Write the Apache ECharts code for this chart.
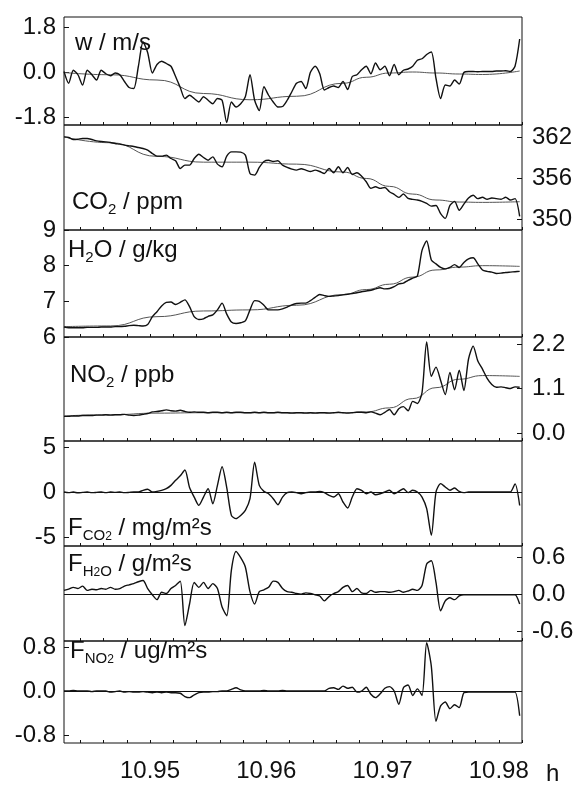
<!DOCTYPE html>
<html>
<head>
<meta charset="utf-8">
<script src="https://cdn.jsdelivr.net/npm/echarts@6/dist/echarts.min.js"></script>
<style>
  html, body { margin: 0; background: #fff; }
  #chart { width: 577px; height: 787px; }
</style>
</head>
<body>
<div id="chart"></div>
<script>
// sample times (h)
const hours = [
  10.9426,10.9430,10.9434,10.9438,10.9442,10.9446,10.9450,10.9454,10.9458,10.9462,
  10.9466,10.9470,10.9474,10.9478,10.9482,10.9486,10.9490,10.9494,10.9498,10.9502,
  10.9506,10.9510,10.9514,10.9518,10.9522,10.9526,10.9530,10.9534,10.9538,10.9542,
  10.9546,10.9550,10.9554,10.9558,10.9562,10.9566,10.9570,10.9574,10.9578,10.9582,
  10.9586,10.9590,10.9594,10.9598,10.9602,10.9606,10.9610,10.9614,10.9618,10.9622,
  10.9626,10.9630,10.9634,10.9638,10.9642,10.9646,10.9650,10.9654,10.9658,10.9662,
  10.9666,10.9670,10.9674,10.9678,10.9682,10.9686,10.9690,10.9694,10.9698,10.9702,
  10.9706,10.9710,10.9714,10.9718,10.9722,10.9726,10.9730,10.9734,10.9738,10.9742,
  10.9746,10.9750,10.9754,10.9758,10.9762,10.9766,10.9770,10.9774,10.9778,10.9782,
  10.9786,10.9790,10.9794,10.9798,10.9802,10.9806,10.9810,10.9814,10.9818
];

const w = [
  0.02,-0.45,0.07,-0.11,-0.52,0.07,-0.11,-0.32,0.07,-0.07,
  -0.15,-0.04,-0.11,-0.38,-0.62,-0.66,0.23,1.2,0.77,-0.04,
  0.30,0.43,0.34,0.23,-0.18,-0.62,-1.06,-0.93,-1.06,-1.20,
  -0.99,-1.13,-1.27,-1.06,-1.13,-2.02,-1.20,-1.40,-1.27,-0.99,
  -0.11,-1.13,-1.54,-0.59,-0.93,-1.20,-1.40,-1.38,-1.13,-0.79,
  -0.45,-0.38,-0.66,-0.01,0.23,-0.07,-0.72,-0.62,-0.56,-0.62,
  -0.38,-0.70,-0.18,-0.11,0.09,0.23,-0.07,0.36,0.09,0.23,
  -0.15,0.30,-0.11,0.07,0.12,0.23,0.47,0.53,0.70,0.80,
  -0.25,-1.06,-0.52,-0.56,-0.32,-0.48,-0.02,0.02,0.02,0.01,
  0.02,0.02,0.02,0.04,0.04,0.05,0.02,0.23,1.32
];
const co2 = [
  362.06,361.96,361.67,361.72,361.82,361.82,361.67,361.47,361.38,361.33,
  361.23,361.08,360.99,360.84,360.74,360.65,360.50,360.35,360.11,359.62,
  359.23,359.23,359.38,358.89,358.55,357.42,357.91,357.91,358.89,359.52,
  359.03,358.64,359.13,358.06,357.67,359.23,359.86,359.86,359.82,359.38,
  356.69,356.45,357.57,358.45,358.64,358.45,358.55,357.91,357.57,357.33,
  357.18,357.38,357.18,356.98,357.18,356.98,356.69,357.42,356.79,357.67,
  356.79,357.57,356.54,356.79,356.30,355.47,354.50,354.74,354.50,354.64,
  354.01,353.62,353.18,353.67,353.03,352.89,352.80,352.60,352.30,351.90,
  352.00,350.80,350.10,352.00,352.60,351.30,352.20,353.10,353.50,353.00,
  353.20,352.90,353.10,353.00,352.90,353.20,352.80,353.00,350.40
];
const h2o = [
  6.28,6.26,6.26,6.26,6.26,6.27,6.27,6.27,6.28,6.28,
  6.28,6.29,6.29,6.30,6.32,6.33,6.32,6.31,6.35,6.57,
  6.71,6.87,6.97,6.98,6.91,6.97,7.04,6.85,6.57,6.49,
  6.51,6.58,6.62,6.76,6.95,6.64,6.42,6.38,6.40,6.45,
  6.76,7.02,7.00,6.89,6.76,6.76,6.76,6.79,6.84,6.90,
  6.94,6.95,6.95,7.02,7.11,7.19,7.16,7.14,7.15,7.16,
  7.18,7.20,7.22,7.24,7.27,7.29,7.31,7.35,7.38,7.35,
  7.36,7.41,7.49,7.51,7.59,7.65,7.71,8.43,8.69,8.16,
  8.05,7.95,7.91,7.95,8.03,7.95,8.09,8.19,8.22,8.05,
  7.88,7.84,7.82,7.78,7.79,7.81,7.82,7.83,7.84
];
const no2 = [
  0.41,0.41,0.42,0.42,0.43,0.43,0.43,0.44,0.44,0.45,
  0.44,0.45,0.45,0.46,0.44,0.43,0.44,0.46,0.48,0.52,
  0.53,0.55,0.57,0.55,0.54,0.56,0.53,0.51,0.52,0.51,
  0.51,0.50,0.51,0.51,0.50,0.51,0.50,0.51,0.51,0.50,
  0.50,0.51,0.50,0.51,0.50,0.50,0.51,0.50,0.50,0.49,
  0.50,0.50,0.49,0.50,0.49,0.50,0.50,0.49,0.50,0.51,
  0.50,0.49,0.50,0.51,0.51,0.50,0.52,0.49,0.45,0.51,
  0.58,0.45,0.60,0.65,0.55,0.78,0.73,1.00,2.25,1.40,
  1.63,1.30,0.95,1.50,1.07,1.55,1.05,1.83,2.15,1.78,
  1.58,1.35,1.20,1.13,1.14,1.12,1.10,1.14,1.13
];
const fCo2 = [
  0,-0.07,0,-0.1,-0.04,0,-0.07,-0.04,0,-0.07,
  0,-0.04,0,-0.07,-0.04,0,0,0.19,0.3,0,
  0.07,0.19,0.37,0.74,1.3,1.8,2.44,0.5,-0.56,-1.48,
  -0.56,0.37,-1.3,0.74,2.8,0.5,-2.6,-2.96,-2.6,-2.04,
  -0.74,3.3,0.74,0.07,-0.19,-0.74,-1.41,-0.56,-0.07,0,
  -0.07,-0.19,-0.07,0,0,0.07,-0.07,-0.37,-0.56,-0.19,
  -1.11,-1.78,-0.56,0.37,0.19,-0.19,0,-0.3,-0.19,0,
  0.19,-0.19,0.07,0.37,-0.07,0.19,0,-0.56,-1.85,-4.8,
  0,0.93,0.56,0.19,0.44,0.07,-0.07,0,0,0,
  0,0,0,0,0,0,0,0.9,-1.5
];
const fH2o = [
  0.07,0.09,0.12,0.1,0.14,0.07,0.09,0.08,0.1,0.09,
  0.12,0.09,0.1,0.14,0.16,0.18,0.21,0.23,0.1,0.0,
  -0.08,0.04,0.02,0.1,0.15,0.22,-0.5,-0.15,0.2,0.12,
  0.2,0.1,0.18,0.1,-0.2,-0.34,0.4,0.7,0.6,0.45,
  0.05,-0.15,0.05,0.08,0.12,0.22,0.2,0.1,0.05,0.04,
  0.02,0.01,0.03,0.02,0,-0.02,-0.1,-0.03,0.02,0.05,
  0.12,0.15,0.05,0.1,0.03,0.02,0.07,0.04,0.05,0.05,
  0.04,0.05,0.07,0.04,0.06,0.09,0.07,0.15,0.5,0.55,
  0.2,-0.26,-0.1,-0.05,-0.08,-0.02,0,0,0,0,
  0,0,0,0,0,0,0,0,-0.15
];
const fNo2 = [
  0,0,0.01,0,0,0,-0.01,0,0,0,
  -0.02,-0.01,0,-0.02,-0.01,-0.02,-0.02,-0.01,-0.02,-0.03,
  -0.02,-0.03,-0.02,-0.03,-0.03,-0.04,-0.1,-0.12,-0.07,-0.03,
  -0.02,-0.02,-0.01,-0.01,0,0,0.03,0.06,0.02,0,
  0,0,0,0.01,0,0,0,0.01,0,0,
  0,0,0,0,0,0,0,0.05,0.06,0.03,
  0.09,0.05,0.07,-0.02,0,0.07,-0.06,-0.12,-0.05,0.05,
  0.08,0,-0.24,0.06,0.11,-0.08,0.04,-0.08,0.88,0.45,
  -0.55,-0.27,-0.2,-0.32,-0.25,-0.3,-0.03,-0.02,-0.02,-0.02,
  -0.02,-0.02,-0.02,-0.02,-0.02,-0.02,-0.02,-0.02,-0.45
];

// smoothed trends
const fitHours = [10.9426,10.9466,10.9506,10.9546,10.9586,10.9626,10.9666,10.9686,10.9706,10.9726,10.9746,10.9766,10.9786,10.9818];
const wFit   = [-0.02,-0.11,-0.32,-0.86,-1.11,-0.97,-0.45,-0.21,-0.04,0.0,-0.04,-0.08,-0.1,0.04];
const co2Fit = [362.06,361.2,359.2,358.35,358.35,358.06,356.9,355.96,354.8,353.67,352.8,352.5,352.45,352.55];
const h2oFit = [6.29,6.31,6.57,6.73,6.76,6.89,7.19,7.33,7.48,7.68,7.88,7.96,8.0,7.98];
const no2Fit = [0.42,0.45,0.49,0.5,0.5,0.5,0.5,0.52,0.62,0.85,1.12,1.33,1.42,1.4];

// tick labels
const xLabels = [10.95, 10.96, 10.97, 10.98];
const xMinor = [10.944,10.946,10.948,10.950,10.952,10.954,10.956,10.958,10.960,10.962,
                10.964,10.966,10.968,10.970,10.972,10.974,10.976,10.978,10.980,10.982];
const wTicks = [-1.8, 0, 1.8];
const co2Ticks = [350, 356, 362];
const h2oTicks = [6, 7, 8, 9];
const no2Ticks = [0, 1.1, 2.2];
const fCo2Ticks = [-5, 0, 5];
const fH2oTicks = [-0.6, 0, 0.6];
const fNo2Ticks = [-0.8, 0, 0.8];

const FONT = 'Liberation Sans, Arial, Helvetica, sans-serif';
const INK = '#111';

const panels = [
  { top: 17,  height: 108, min: -2.12, max: 2.2,   side: 'left',  ticks: wTicks,    dec: 1, values: w,    fit: wFit },
  { top: 125, height: 105, min: 348.4, max: 363.8, side: 'right', ticks: co2Ticks,  dec: 0, values: co2,  fit: co2Fit },
  { top: 230, height: 107, min: 6,     max: 9,     side: 'left',  ticks: h2oTicks,  dec: 0, values: h2o,  fit: h2oFit },
  { top: 337, height: 104, min: -0.2,  max: 2.375, side: 'right', ticks: no2Ticks,  dec: 1, values: no2,  fit: no2Fit },
  { top: 441, height: 105, min: -6,    max: 5.67,  side: 'left',  ticks: fCo2Ticks, dec: 0, values: fCo2, zero: true },
  { top: 546, height: 95,  min: -0.75, max: 0.79,  side: 'right', ticks: fH2oTicks, dec: 1, values: fH2o, zero: true },
  { top: 641, height: 102, min: -0.945,max: 0.91,  side: 'left',  ticks: fNo2Ticks, dec: 1, values: fNo2, zero: true }
];

const titles = [
  { x: 75, y: 28,  text: '{m|w / m/s}' },
  { x: 72, y: 187, text: '{m|CO}{s|2}{m| / ppm}' },
  { x: 68, y: 235, text: '{m|H}{s|2}{m|O / g/kg}' },
  { x: 70, y: 360, text: '{m|NO}{s|2}{m| / ppb}' },
  { x: 68, y: 513, text: '{m|F}{s|CO}{ss|2}{m| / mg/m²s}' },
  { x: 68, y: 549, text: '{m|F}{s|H}{ss|2}{s|O}{m| / g/m²s}' },
  { x: 70, y: 636, text: '{m|F}{s|NO}{ss|2}{m| / ug/m²s}' }
];

const rich = {
  m:  { fontSize: 24, lineHeight: 30, fontFamily: FONT, fill: INK },
  s:  { fontSize: 15, lineHeight: 16, verticalAlign: 'bottom', fontFamily: FONT, fill: INK },
  ss: { fontSize: 12, lineHeight: 6,  verticalAlign: 'bottom', fontFamily: FONT, fill: INK }
};

const last = panels.length - 1;
const X0 = 10.9426, X1 = 10.9820;

const option = {
  animation: false,
  backgroundColor: '#fff',
  grid: panels.map(p => ({
    left: 64, right: 55, top: p.top, height: p.height,
    show: true, borderColor: INK, borderWidth: 1, backgroundColor: 'transparent'
  })),
  xAxis: panels.map((p, i) => ({
    type: 'value', gridIndex: i, min: X0, max: X1, position: 'bottom',
    axisLine: { show: false, onZero: false },
    splitLine: { show: false },
    axisTick: { show: true, inside: true, length: 3, customValues: xMinor, lineStyle: { color: INK } },
    axisLabel: {
      show: i === last, customValues: xLabels, margin: 16,
      fontSize: 24, fontFamily: FONT, color: INK,
      formatter: v => v.toFixed(2)
    }
  })),
  yAxis: panels.map((p, i) => ({
    type: 'value', gridIndex: i, min: p.min, max: p.max, position: p.side,
    axisLine: { show: false, onZero: false },
    splitLine: { show: false },
    axisTick: { show: true, inside: true, length: 5, customValues: p.ticks, lineStyle: { color: INK } },
    axisLabel: {
      customValues: p.ticks, margin: p.side === 'left' ? 8 : 10,
      fontSize: 24, fontFamily: FONT, color: INK,
      formatter: v => Number(v).toFixed(p.dec)
    }
  })),
  series: [],
  graphic: titles.map(t => ({
    type: 'text', x: t.x, y: t.y,
    style: { text: t.text, rich: rich, fill: INK, font: '24px ' + FONT, verticalAlign: 'top', align: 'left' }
  })).concat([{
    type: 'text', x: 546, y: 762,
    style: { text: 'h', fill: INK, font: '24px ' + FONT, verticalAlign: 'top' }
  }])
};

panels.forEach((p, i) => {
  if (p.fit) {
    option.series.push({
      type: 'line', xAxisIndex: i, yAxisIndex: i,
      data: fitHours.map((t, k) => [t, p.fit[k]]),
      showSymbol: false, smooth: 0.5, smoothMonotone: 'x',
      lineStyle: { color: '#555', width: 1 }
    });
  }
  const s = {
    type: 'line', xAxisIndex: i, yAxisIndex: i,
    data: hours.map((t, k) => [t, p.values[k]]),
    showSymbol: false, smooth: 0.25,
    lineStyle: { color: INK, width: 1.4 }
  };
  if (p.zero) {
    s.markLine = {
      silent: true, symbol: 'none', label: { show: false },
      lineStyle: { color: INK, width: 1, type: 'solid' },
      data: [{ yAxis: 0 }]
    };
  }
  option.series.push(s);
});

const chart = echarts.init(document.getElementById('chart'));
chart.setOption(option);
</script>
</body>
</html>
